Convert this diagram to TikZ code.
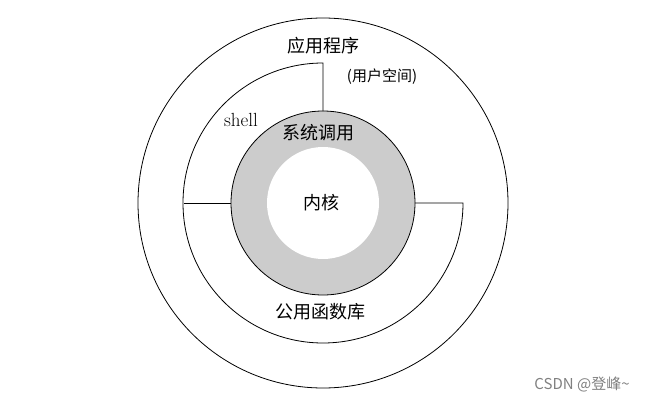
\documentclass[tikz,border=0pt]{standalone}
\usepackage{fontspec}
\newfontfamily\cjk{Noto Sans CJK SC}
\begin{document}
\begin{tikzpicture}[x=1pt,y=-1pt,line width=0.8pt,
  lab/.style={font=\cjk\fontsize{18}{20}\selectfont},
  small/.style={font=\cjk\fontsize{15}{17}\selectfont}]
\useasboundingbox (0,0) rectangle (645,404);
\coordinate (c) at (323,203);
\draw (c) circle[radius=185];
\fill[gray!40] (c) circle[radius=92];
\draw (c) circle[radius=92];
\fill[white] (c) circle[radius=56];
\draw (323,111) -- (323,63) arc[start angle=-90,end angle=-360,radius=140] -- (415,203);
\draw (184,203) -- (231,203);
\node[lab] (app) at (323,46) {应用程序};
\node[small] (us) at (382,77) {(用户空间)};
\node[font=\fontsize{19}{21}\selectfont] (sh) at (241,120) {shell};
\node[lab] (sc) at (318,133) {系统调用};
\node[lab] (k) at (321,203) {内核};
\node[lab] (lib) at (320,312) {公用函数库};
\node[small,text=gray] (wm) at (582,384) {CSDN @登峰\textasciitilde};
\end{tikzpicture}
\end{document}
